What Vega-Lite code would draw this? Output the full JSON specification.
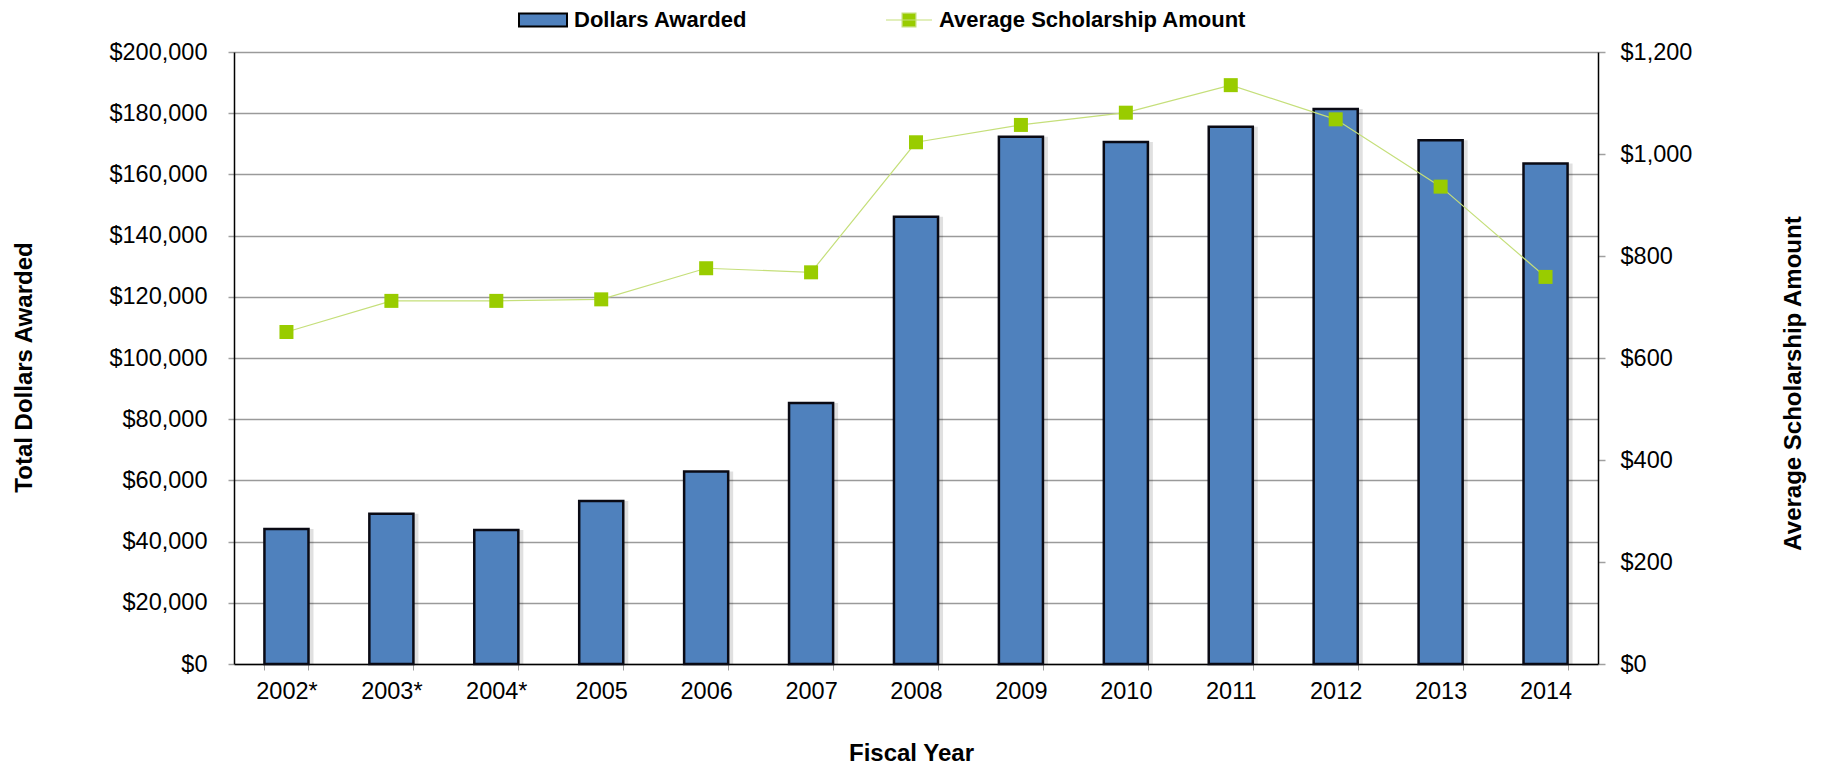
{
  "$schema": "https://vega.github.io/schema/vega-lite/v6.json",
  "autosize": "none",
  "width": 1364,
  "height": 612,
  "padding": {"left": 234, "top": 52, "right": 226, "bottom": 102},
  "background": "white",
  "config": {
    "view": {"stroke": null},
    "font": "Liberation Sans",
    "axis": {"labelFont": "Liberation Sans", "titleFont": "Liberation Sans", "labelColor": "black", "titleColor": "black"}
  },
  "data": {
    "values": [
      {"year": "2002*", "dollars": 44100, "avg": 651},
      {"year": "2003*", "dollars": 49100, "avg": 712},
      {"year": "2004*", "dollars": 43800, "avg": 712},
      {"year": "2005", "dollars": 53300, "avg": 715},
      {"year": "2006", "dollars": 62900, "avg": 776},
      {"year": "2007", "dollars": 85300, "avg": 768},
      {"year": "2008", "dollars": 146200, "avg": 1023},
      {"year": "2009", "dollars": 172300, "avg": 1057},
      {"year": "2010", "dollars": 170600, "avg": 1081},
      {"year": "2011", "dollars": 175600, "avg": 1135},
      {"year": "2012", "dollars": 181400, "avg": 1068},
      {"year": "2013", "dollars": 171200, "avg": 936},
      {"year": "2014", "dollars": 163600, "avg": 759}
    ]
  },
  "encoding": {
    "x": {
      "field": "year", "type": "ordinal", "sort": null,
      "scale": {"paddingInner": 0.58, "paddingOuter": 0.29},
      "axis": {
        "title": "Fiscal Year", "labelAngle": 0, "labelFontSize": 23.5, "labelPadding": 9,
        "tickBand": "extent", "tickSize": 6, "tickColor": "#A0A0A0", "tickWidth": 1,
        "domainColor": "black", "domainWidth": 1.5,
        "titleFontSize": 24, "titleFontWeight": "bold",
        "titleX": 677, "titleY": 89, "titleBaseline": "middle", "titleAlign": "center"
      }
    }
  },
  "layer": [
    {
      "encoding": {
        "y": {
          "field": "dollars", "type": "quantitative",
          "scale": {"domain": [0, 200000], "nice": false},
          "axis": {
            "orient": "left",
            "values": [0, 20000, 40000, 60000, 80000, 100000, 120000, 140000, 160000, 180000, 200000],
            "format": "$,.0f", "labelFontSize": 23.5, "labelPadding": 21,
            "tickSize": 6, "tickColor": "#A0A0A0", "tickWidth": 1.5,
            "grid": true, "gridColor": "#9A9A9A", "gridWidth": 1.6,
            "domainColor": "black", "domainWidth": 1.5,
            "title": "Total Dollars Awarded", "titleFontSize": 24, "titleFontWeight": "bold",
            "titleAngle": -90, "titleX": -210, "titleY": 315, "titleAlign": "center", "titleBaseline": "middle"
          }
        }
      },
      "layer": [
        {
          "mark": {"type": "bar", "fill": "#000000", "opacity": 0.12, "xOffset": 5}
        },
        {
          "mark": {"type": "bar", "stroke": "#0A0A14", "strokeWidth": 2.5},
          "encoding": {
            "fill": {
              "datum": "Dollars Awarded",
              "scale": {"range": ["#4F81BD"]},
              "legend": {
                "orient": "none", "legendX": 284, "legendY": -57, "title": null, "padding": 0,
                "symbolType": "M-1,-0.27H1V0.27H-1Z", "symbolSize": 2304,
                "symbolStrokeColor": "black", "symbolStrokeWidth": 2, "symbolOpacity": 1,
                "labelFont": "Liberation Sans", "labelFontSize": 22, "labelFontWeight": "bold",
                "labelColor": "black", "labelOffset": 6, "labelLimit": 0
              }
            }
          }
        }
      ]
    },
    {
      "encoding": {
        "y": {
          "field": "avg", "type": "quantitative",
          "scale": {"domain": [0, 1200], "nice": false},
          "axis": {
            "orient": "right",
            "values": [0, 200, 400, 600, 800, 1000, 1200],
            "format": "$,.0f", "labelFontSize": 23.5, "labelPadding": 15,
            "tickSize": 7, "tickColor": "#A0A0A0", "tickWidth": 1.5,
            "grid": false, "domainColor": "black", "domainWidth": 1.5,
            "title": "Average Scholarship Amount", "titleFontSize": 24, "titleFontWeight": "bold",
            "titleAngle": -90, "titleX": 195, "titleY": 331, "titleAlign": "center", "titleBaseline": "middle"
          }
        }
      },
      "layer": [
        {
          "mark": {"type": "line", "strokeWidth": 1.2},
          "encoding": {
            "stroke": {
              "datum": "Average Scholarship Amount",
              "scale": {"range": ["#C5DF7A"]},
              "legend": {
                "orient": "none", "legendX": 651, "legendY": -56, "title": null, "padding": 0,
                "symbolType": "M-1,0H1M-0.3,-0.3H0.3V0.3H-0.3Z", "symbolSize": 2116,
                "symbolFillColor": "#99CC00", "symbolStrokeWidth": 1.2,
                "labelFont": "Liberation Sans", "labelFontSize": 22, "labelFontWeight": "bold",
                "labelColor": "black", "labelOffset": 6, "labelLimit": 0
              }
            }
          }
        },
        {
          "mark": {"type": "point", "shape": "square", "filled": true, "size": 196, "color": "#99CC00", "opacity": 1}
        }
      ]
    }
  ],
  "resolve": {"scale": {"y": "independent"}, "axis": {"y": "independent"}}
}
